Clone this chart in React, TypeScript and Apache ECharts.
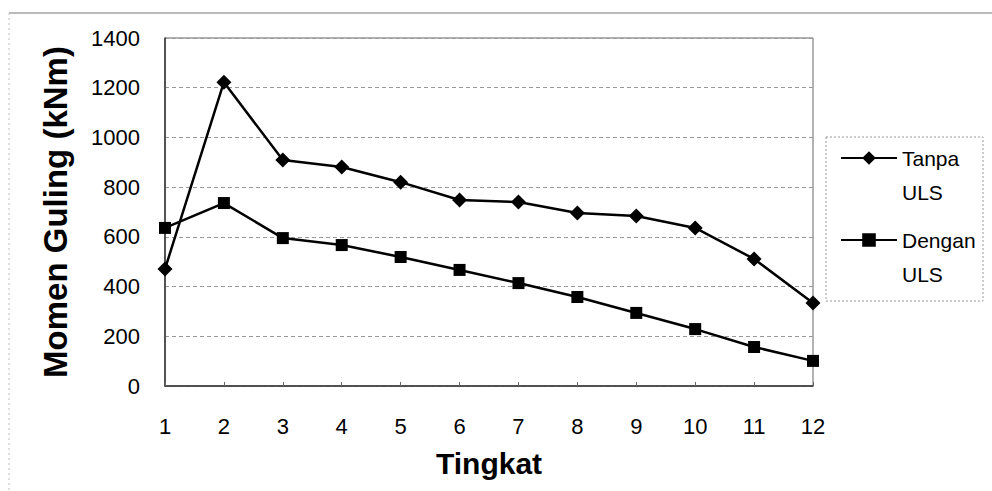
import React, { useEffect, useRef } from "react";
import * as echarts from "echarts";

const categories = ["1", "2", "3", "4", "5", "6", "7", "8", "9", "10", "11", "12"];
const tanpaULS = [471, 1222, 909, 881, 820, 748, 740, 696, 684, 636, 511, 334];
const denganULS = [636, 736, 595, 567, 519, 467, 414, 358, 294, 229, 157, 101];
const seriesNames = ["Tanpa\nULS", "Dengan\nULS"];
const yTicks = { min: 0, max: 1400, interval: 200 };
const FONT = "'Liberation Sans', Arial, sans-serif";

export default function App() {
  const ref = useRef<HTMLDivElement>(null);
  useEffect(() => {
    if (!ref.current) return;
    const chart = echarts.init(ref.current, null, { renderer: "svg" });
    chart.setOption({
      animation: false,
      backgroundColor: "#fff",
      textStyle: { fontFamily: FONT, color: "#000" },
      grid: { left: 165, right: 179, top: 38, bottom: 105, show: true, borderColor: "#666", borderWidth: 1, backgroundColor: "transparent" },
      graphic: [
        { type: "line", shape: { x1: 9, y1: 13, x2: 992, y2: 13 }, style: { stroke: "#777", lineWidth: 1 }, silent: true, z: -1 },
        { type: "line", shape: { x1: 9, y1: 13, x2: 9, y2: 491 }, style: { stroke: "#bbb", lineWidth: 1, lineDash: [2, 3] }, silent: true, z: -1 },
        { type: "rect", shape: { x: 826, y: 137, width: 157, height: 164 }, style: { fill: "none", stroke: "#999", lineWidth: 1, lineDash: [2, 2] }, silent: true },
      ],
      legend: {
        orient: "vertical",
        left: 840,
        top: 107,
        padding: 0,
        itemWidth: 56,
        itemHeight: 17,
        itemGap: -20,
        data: seriesNames,
        formatter: (name: string) => "\n" + name,
        textStyle: { fontSize: 21, fontFamily: FONT, color: "#000", lineHeight: 34 },
      },
      xAxis: {
        type: "category",
        data: categories,
        boundaryGap: false,
        name: "Tingkat",
        nameLocation: "middle",
        nameGap: 62,
        nameTextStyle: { fontSize: 30, fontWeight: "bold", fontFamily: FONT, color: "#000" },
        axisLine: { lineStyle: { color: "#333", width: 1.5 } },
        axisTick: { inside: true, length: 4, lineStyle: { color: "#666" } },
        axisLabel: { fontSize: 22, margin: 29, color: "#000", fontFamily: FONT },
        splitLine: { show: false },
      },
      yAxis: {
        type: "value",
        min: yTicks.min,
        max: yTicks.max,
        interval: yTicks.interval,
        name: "Momen Guling (kNm)",
        nameLocation: "middle",
        nameGap: 93,
        nameTextStyle: { fontSize: 33, fontWeight: "bold", fontFamily: FONT, color: "#000" },
        axisLine: { show: true, lineStyle: { color: "#333", width: 1.5 } },
        axisTick: { show: false },
        axisLabel: { fontSize: 22, margin: 25, color: "#000", fontFamily: FONT, formatter: (v: number) => String(v) },
        splitLine: { lineStyle: { color: "#999", type: [4, 3], width: 1 } },
      },
      series: [
        {
          name: seriesNames[0],
          type: "line",
          data: tanpaULS,
          symbol: "diamond",
          symbolSize: 15,
          lineStyle: { color: "#000", width: 2.5 },
          itemStyle: { color: "#000" },
        },
        {
          name: seriesNames[1],
          type: "line",
          data: denganULS,
          symbol: "rect",
          symbolSize: 12,
          lineStyle: { color: "#000", width: 2.5 },
          itemStyle: { color: "#000" },
        },
      ],
    });
    return () => chart.dispose();
  }, []);
  return <div ref={ref} style={{ position: "fixed", left: 0, top: 0, width: 992, height: 491 }} />;
}
